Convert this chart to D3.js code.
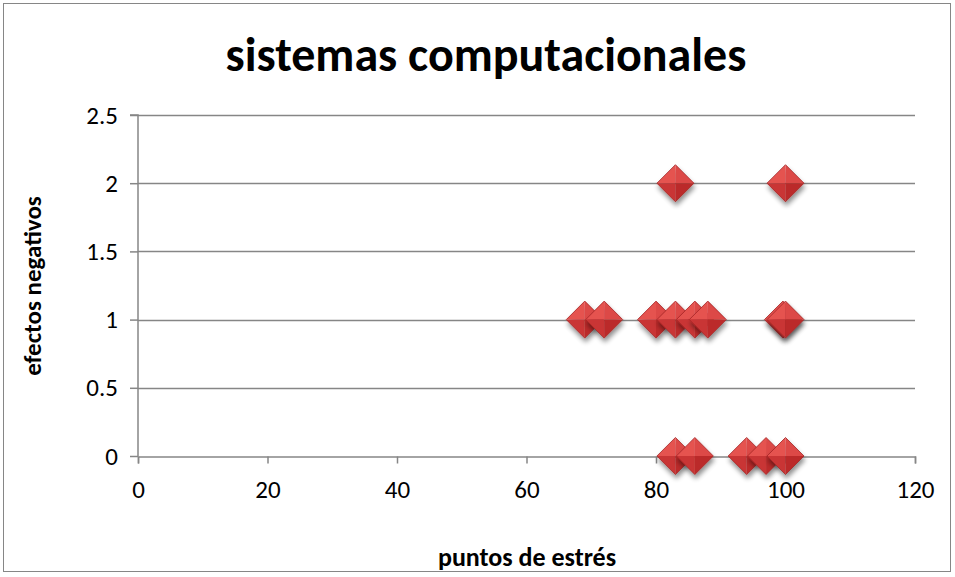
<!DOCTYPE html>
<html><head><meta charset="utf-8">
<script src="https://cdn.jsdelivr.net/npm/d3@7/dist/d3.min.js"></script>
<style>body{margin:0;background:#fff}svg{display:block}</style>
</head><body>
<script>
const title = "sistemas computacionales";
const xLabel = "puntos de estrés";
const yLabel = "efectos negativos";
const xTicks = [0, 20, 40, 60, 80, 100, 120];
const yTicks = [0, 0.5, 1, 1.5, 2, 2.5];
const xValues = [83, 100, 69, 72, 80, 83, 86, 88, 99.6, 100, 83, 86, 94, 97, 100];
const yValues = [2, 2, 1, 1, 1, 1, 1, 1, 1, 1, 0, 0, 0, 0, 0];

const W = 955, H = 577;
const svg = d3.select("body").append("svg").attr("width", W).attr("height", H);
const defs = svg.append("defs");
const f = defs.append("filter").attr("id","sh").attr("x","-50%").attr("y","-50%").attr("width","200%").attr("height","200%");
f.append("feGaussianBlur").attr("in","SourceAlpha").attr("stdDeviation",2.5).attr("result","b");
f.append("feOffset").attr("in","b").attr("dx",1).attr("dy",4).attr("result","o");
f.append("feComponentTransfer").attr("in","o").attr("result","o2").append("feFuncA").attr("type","linear").attr("slope",0.45);
const m = f.append("feMerge"); m.append("feMergeNode").attr("in","o2"); m.append("feMergeNode").attr("in","SourceGraphic");

svg.append("rect").attr("x",3.5).attr("y",3.5).attr("width",947).attr("height",568)
  .attr("fill","#fff").attr("stroke","#868686").attr("stroke-width",1);

const x = d3.scaleLinear().domain([0,120]).range([138,915]);
const y = d3.scaleLinear().domain([0,2.5]).range([456,115]);

const font = "Carlito, Calibri, 'Open Sans', sans-serif";

// gridlines
svg.append("g").selectAll("line").data(yTicks.filter(d=>d>0)).join("line")
  .attr("x1",x(0)).attr("x2",x(120)).attr("y1",d=>Math.round(y(d))+0.5).attr("y2",d=>Math.round(y(d))+0.5)
  .attr("stroke","#868686").attr("stroke-width",1.5);

const xAxis = svg.append("g").attr("transform",`translate(0,${Math.round(y(0))+0.5})`)
  .call(d3.axisBottom(x).tickValues(xTicks).tickSize(7).tickPadding(17).tickFormat(d3.format("d")));
const yAxis = svg.append("g").attr("transform",`translate(${x(0)},0)`)
  .call(d3.axisLeft(y).tickValues(yTicks).tickSize(8).tickPadding(12).tickFormat(d=>String(d)));
[xAxis,yAxis].forEach(a=>{
  a.attr("font-size",25).attr("font-family",font);
  a.select(".domain").attr("stroke","#868686").attr("stroke-width",1.5);
  a.selectAll(".tick line").attr("stroke","#868686").attr("stroke-width",1.5);
  a.selectAll("text").attr("font-family",font).attr("font-size",25).attr("fill","#000");
});
yAxis.select(".domain").attr("d",`M-8,${y(2.5)}H0V${y(0)}`);

// diamonds
const hw = 18.5, hh = 18.5;
const g = svg.append("g");
xValues.forEach((xv,i)=>{
  const cx = x(xv), cy = y(yValues[i]);
  const d = g.append("g").attr("transform",`translate(${cx},${cy})`).attr("filter","url(#sh)");
  d.append("path").attr("d",`M0,${-hh}L${-hw},0L0,0Z`).attr("fill","#e55250");
  d.append("path").attr("d",`M0,${-hh}L${hw},0L0,0Z`).attr("fill","#dc4846");
  d.append("path").attr("d",`M${-hw},0L0,${hh}L0,0Z`).attr("fill","#c93634");
  d.append("path").attr("d",`M${hw},0L0,${hh}L0,0Z`).attr("fill","#bb2c2b");
  d.append("path").attr("d",`M0,${-hh}L${-hw},0L0,${hh}L${hw},0Z`).attr("fill","none").attr("stroke","#a52626").attr("stroke-width",0.8);
});

svg.append("text").attr("x",486).attr("y",71).attr("text-anchor","middle")
  .attr("font-family",font).attr("font-weight","bold").attr("font-size",48).text(title);
svg.append("text").attr("x",527).attr("y",566).attr("text-anchor","middle")
  .attr("font-family",font).attr("font-weight","bold").attr("font-size",26).text(xLabel);
svg.append("text").attr("transform","translate(41,286) rotate(-90)").attr("text-anchor","middle")
  .attr("font-family",font).attr("font-weight","bold").attr("font-size",25).text(yLabel);
</script>
</body></html>
